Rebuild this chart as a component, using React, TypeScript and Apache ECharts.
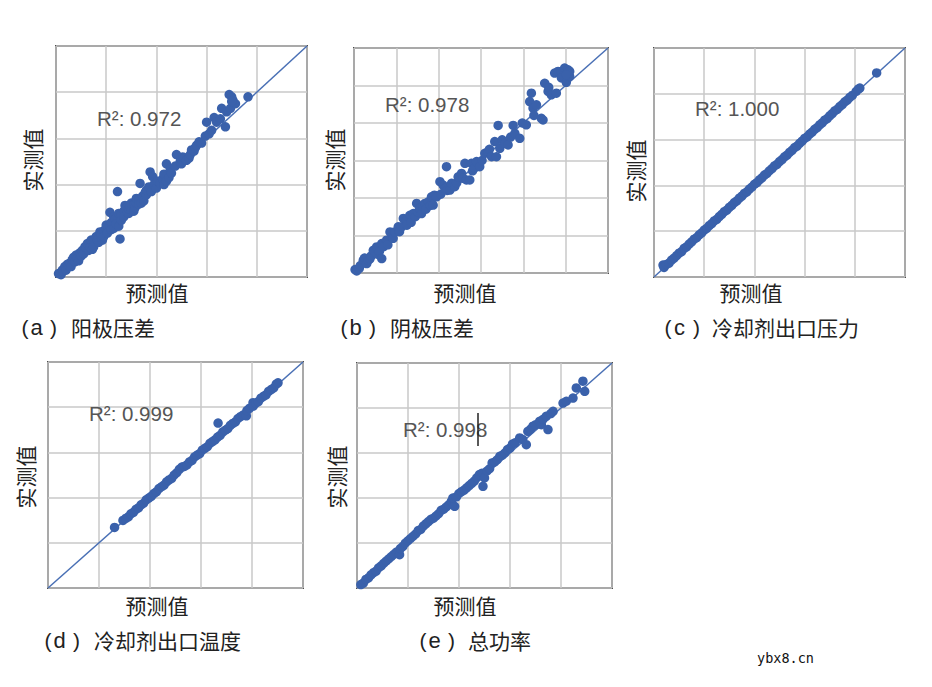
import React, { useEffect, useRef } from "react";
import * as echarts from "echarts";

// ---------- data (arbitrary units) ----------
const panelA: number[][] = [
  [1, 1.5], [2, 1], [2.5, 3], [3, 2.5], [3.5, 4.5], [4, 3], [4.5, 5.5], [5, 5], [5.5, 6], [6, 4.5], [6.5, 7.5], [7, 8.5],
  [7.5, 6.5], [8, 9.5], [8.5, 8], [9, 7], [9.5, 10.5], [10, 9], [10.5, 11.5], [11, 10], [11.5, 13], [12, 12.5], [12.5, 14.5], [13, 11.5],
  [13.5, 13], [14, 16], [14.5, 12], [15, 15.5], [15, 13], [16, 17.5], [16.5, 16], [17, 15], [17.5, 19.5], [18, 18.5], [18.5, 16], [19, 20],
  [19, 17.5], [20, 21], [20, 22.5], [20.5, 19], [21.5, 22], [21.5, 28], [22, 23.5], [22, 20.5], [23, 26], [23, 21], [23.5, 25], [24, 23],
  [24.5, 37], [25.5, 16.5], [25, 22], [25, 27.5], [26, 27], [26, 24.5], [27, 28.5], [27, 26], [27.5, 31], [28, 30], [28.5, 28], [29, 27.5],
  [29, 29.5], [29.5, 30.5], [30, 29], [30, 32], [31, 31.5], [31, 28.5], [31.5, 30], [32, 32], [32, 34], [33, 33.5], [33, 31.5], [33.5, 40.5],
  [34, 32], [34.5, 35], [35, 33], [35.5, 36.5], [36, 35.5], [36, 37.5], [37, 39], [37.5, 45.5], [38, 37], [38.5, 43.5], [39, 40], [40, 38.5],
  [40.5, 41.5], [41.5, 40.5], [42.5, 42.5], [43, 44.5], [43, 40], [44, 49], [44, 41.5], [45, 43], [45.5, 47], [46, 45], [47.5, 48], [48, 53],
  [49.5, 50], [50, 49], [50.5, 52], [51, 51.5], [52, 50.5], [53, 51.5], [53.5, 53], [54, 55], [55, 54.5], [55.5, 56], [56, 57], [57, 58.5],
  [58, 58], [59.5, 61], [60, 67], [61, 62], [62, 63.5], [63, 69], [64, 67], [65.5, 68.5], [66, 73], [67.5, 65], [68, 71.5], [69.5, 73],
  [69, 79], [70, 78], [70.5, 76.5], [71.5, 75], [70, 76], [76.5, 78]
];

const panelB: number[][] = [
  [0.5, 1.8], [1.3, 1.1], [2.5, 2.5], [3, 4], [4.4, 6.8], [5, 8], [6, 5], [6.8, 6.8], [7.5, 7.5], [8, 9], [9.1, 12.1], [10.7, 13.9],
  [11, 10], [12, 11.5], [13.1, 15.7], [13.1, 7.7], [14, 14], [15.4, 17.5], [16, 15], [17, 21.9], [17.8, 19.3], [18.5, 18.5], [19.3, 21.9], [20.9, 24.6],
  [21.5, 22], [22.5, 24.6], [23.3, 29.1], [24.8, 28.2], [25, 25.5], [26.4, 30.8], [27, 27], [28, 31.7], [29, 30], [29.6, 37.1], [30.3, 32.6], [31.1, 34.4],
  [31.9, 31.7], [32.5, 35.5], [33.5, 37.1], [34, 34], [35.1, 38], [36, 36], [36.6, 40.6], [37.4, 36.2], [38, 41.5], [39, 40.6], [40.6, 48.7], [41, 42],
  [42.1, 46.9], [43, 45], [43.7, 56.7], [44, 44], [45.3, 44.2], [46.1, 47.8], [47.6, 46], [48.5, 48], [49.2, 51.3], [50.8, 53.1], [51.5, 50.5], [52.4, 58.5],
  [53.1, 49.6], [54.7, 49.6], [55.5, 58.5], [56, 54.5], [57, 56], [57.9, 59.4], [59.4, 56.7], [60.5, 60], [61.8, 63.8], [63.4, 64.7], [64, 66], [65, 62],
  [66.5, 70.1], [67.3, 62], [68.1, 78.7], [68.9, 66.5], [70, 71], [71.2, 69.2], [72.8, 68.3], [74, 72.5], [75.2, 78.7], [76, 74.5], [78.3, 71.8], [79.5, 80],
  [81.4, 79], [83, 91.4], [83.8, 95.9], [84.6, 87.9], [85, 84], [86.2, 89.7], [88.5, 82.5], [89.3, 81.6], [90.1, 101.2], [91.7, 96.8], [92, 99], [93.2, 95],
  [94.8, 106.6], [95.6, 95.9], [96.4, 107.5], [97.9, 107.5], [98, 104], [99.5, 109.3], [100.3, 101.7], [101.1, 108.4], [101.9, 104.8], [101.9, 107.5], [100.3, 105.7]
];

const panelC: number[][] = [
  [3.6, 5.2], [4, 4.2], [5, 5.5], [6, 6.1], [7, 7.4], [8, 8.2], [9, 9.3], [10, 10.4], [11, 11.1], [12, 12.5],
  [13, 13.2], [14, 14.4], [15, 15.3], [16, 16.5], [17, 17.2], [18, 18.4], [19, 19.3], [20, 20.5], [21, 21.2], [22, 22.4],
  [23, 23.3], [24, 24.5], [25, 25.2], [26, 26.4], [27, 27.3], [28, 28.5], [29, 29.2], [30, 30.4], [31, 31.3], [32, 32.5],
  [33, 33.2], [34, 34.4], [35, 35.3], [36, 36.5], [37, 37.2], [38, 38.4], [39, 39.3], [40, 40.5], [41, 41.2], [42, 42.4],
  [43, 43.3], [44, 44.5], [45, 45.2], [46, 46.4], [47, 47.3], [48, 48.5], [49, 49.2], [50, 50.4], [51, 51.3], [52, 52.5],
  [53, 53.2], [54, 54.4], [55, 55.3], [56, 56.5], [57, 57.2], [58, 58.4], [59, 59.3], [60, 60.5], [61, 61.2], [62, 62.4],
  [63, 63.3], [64, 64.5], [65, 65.2], [66, 66.4], [67, 67.3], [68, 68.5], [69, 69.2], [70, 70.4], [71, 71.3], [72, 72.5],
  [73, 73.2], [74, 74.4], [75, 75.3], [76, 76.5], [77, 77.2], [78, 78.4], [79, 79.3], [80.5, 81], [81.4, 82], [82, 82.5],
  [88.7, 89.1]
];

const panelD: number[][] = [
  [26.1, 26.8], [29.4, 29.9], [30.5, 30.8], [31.5, 31.5], [32.5, 32.8], [33.5, 33.5], [34.5, 34.8], [35.5, 35.5], [36.5, 36.8], [37.5, 37.5],
  [38.5, 39], [39.5, 39.8], [40.5, 40.5], [41.5, 41.8], [42.5, 42.5], [43.5, 44], [44.5, 44.8], [45.5, 45.5], [46.5, 47], [47.5, 47.8],
  [48.5, 48.5], [49.5, 50], [50.5, 51], [51.5, 52.5], [52.5, 53.5], [53.5, 53.8], [54.5, 54.5], [55.5, 55.8], [56.5, 56.5], [57.5, 58],
  [58.5, 58.8], [59.5, 59.5], [60.5, 61], [61.5, 61.8], [62.5, 62.5], [63.5, 64], [64.5, 64.8], [65.5, 65.5], [66.7, 73], [66.5, 66.8],
  [67.5, 67.5], [68.5, 69], [69.5, 69.8], [70.5, 70.5], [71.5, 72], [72.5, 72.8], [73.5, 73.5], [74.5, 75], [75.5, 75.8], [76.5, 76.5],
  [77.8, 76.2], [78, 78.5], [79, 79.5], [80.4, 82], [80.5, 80.5], [81.5, 81.8], [82.5, 82.5], [83.5, 84], [84.5, 84.8], [85.5, 85.5],
  [86.5, 87], [87.5, 87.8], [88.5, 88.5], [89.5, 90.2], [90.2, 90.8]
];

const panelE: number[][] = [
  [1.5, 1.5], [2.5, 2.2], [3.5, 3.8], [4.5, 4.5], [5.5, 5.8], [6.5, 6.8], [7.5, 7.5], [8.5, 9], [9.5, 9.8], [10.5, 11],
  [11.5, 12], [12.5, 13], [13.5, 14], [14.5, 15], [15.5, 16], [16.7, 14.8], [17, 17.5], [18, 18.5], [19, 20], [20, 21],
  [21, 22], [22, 23], [23, 24], [24, 25.5], [25, 26], [26, 27.5], [27, 28.5], [28, 29.5], [29, 30.5], [30, 31],
  [31, 32], [32, 33], [33, 34.5], [34, 35], [35, 36], [36, 37], [37, 38.5], [38.3, 36.3], [37.6, 40], [39, 40.5],
  [40, 42], [41, 42.8], [42, 43.5], [43, 44.5], [44, 45.5], [45, 46.5], [46, 47.5], [47, 49], [48, 50.4], [49, 51],
  [50, 48.9], [49.4, 45.2], [51, 52], [52, 53], [53, 55.6], [54, 56], [55, 57], [56, 58.5], [57, 59], [58, 60],
  [59, 61.5], [60, 62.2], [61, 64], [62, 64.5], [63.8, 66.7], [65, 66], [66.4, 63.7], [67, 69.6], [68, 70.5], [69, 71.9],
  [70, 72.5], [71.6, 74.1], [72.3, 72.6], [73, 75], [74.2, 76.3], [74.9, 70.4], [76, 77.5], [76.9, 78.5], [80.8, 82.2], [82.1, 83],
  [84.7, 84.4], [86, 88.9], [88.6, 91.9], [89.3, 87.4]
];

const panels = [panelA, panelB, panelC, panelD, panelE];
const axisMaxes = [100, 120, 100, 100, 100];
const axisStep = 20;
const r2Labels = ["R²: 0.972", "R²: 0.978", "R²: 1.000", "R²: 0.999", "R²: 0.998"];
const captionLetters = ["a", "b", "c", "d", "e"];
const captionTitles = ["阳极压差", "阴极压差", "冷却剂出口压力", "冷却剂出口温度", "总功率"];
const xAxisTitle = "预测值";
const yAxisTitle = "实测值";
const watermark = "ybx8.cn";

// ---------- layout ----------
const gridBoxes = [
  { left: 56, top: 46, width: 251, height: 231 },
  { left: 354, top: 48, width: 254, height: 225 },
  { left: 654, top: 48, width: 251, height: 229 },
  { left: 48, top: 362, width: 255, height: 226 },
  { left: 357, top: 363, width: 255, height: 225 },
];
const r2Pos = [[97, 118], [385, 104], [695, 108], [89, 413], [403, 429]];
const xTitlePos = [[157, 292], [465, 292], [751, 292], [157, 605], [465, 605]];
const yTitlePos = [[32, 160], [334, 160], [635, 171], [25, 477], [336, 477]];
const capStart = [[22, 327], [341, 327], [665, 327], [45, 640], [420, 640]];
const capTitleX = [71, 390, 712, 94, 468];

const DOT = "#3a61ab";
const LINE = "#4a70b5";
const CJK = '"Noto Sans CJK SC", sans-serif';
const LAT = '"Liberation Sans", Arial, sans-serif';

export default function App() {
  const ref = useRef<HTMLDivElement>(null);
  useEffect(() => {
    if (!ref.current) return;
    const chart = echarts.init(ref.current, null, { renderer: "svg" });

    const grid = gridBoxes.map((g) => ({
      ...g,
      show: true,
      borderColor: "#4d4d4d",
      borderWidth: 2,
      backgroundColor: "#fff",
      containLabel: false,
    }));
    const mkAxis = (i: number) => ({
      type: "value" as const,
      gridIndex: i,
      min: 0,
      max: axisMaxes[i],
      interval: axisStep,
      axisLine: { show: false },
      axisTick: { show: false },
      axisLabel: { show: false },
      splitLine: { show: true, lineStyle: { color: "#c8c8c8", width: 1.5 } },
    });
    const series: any[] = [];
    panels.forEach((pts, i) => {
      series.push({
        type: "line",
        xAxisIndex: i,
        yAxisIndex: i,
        data: [[0, 0], [axisMaxes[i], axisMaxes[i]]],
        symbol: "none",
        lineStyle: { color: LINE, width: 1.5 },
        z: 2,
        silent: true,
        clip: false,
      });
      series.push({
        type: "scatter",
        xAxisIndex: i,
        yAxisIndex: i,
        data: pts,
        symbolSize: 9.5,
        itemStyle: { color: DOT, opacity: 1 },
        z: 3,
        clip: false,
      });
    });

    const graphic: any[] = [];
    r2Labels.forEach((t, i) => {
      graphic.push({
        type: "text", x: r2Pos[i][0], y: r2Pos[i][1], z: 10,
        style: { text: t, font: `20.5px ${LAT}`, fill: "#555", align: "left", verticalAlign: "middle" },
      });
      graphic.push({
        type: "text", x: xTitlePos[i][0], y: xTitlePos[i][1],
        style: { text: xAxisTitle, font: `21px ${CJK}`, fill: "#222", align: "center", verticalAlign: "middle" },
      });
      graphic.push({
        type: "text", x: yTitlePos[i][0], y: yTitlePos[i][1], rotation: Math.PI / 2,
        style: { text: yAxisTitle, font: `21px ${CJK}`, fill: "#222", align: "center", verticalAlign: "middle" },
      });
      const [sx, sy] = capStart[i];
      graphic.push({
        type: "text", x: sx + 3, y: sy,
        style: { text: "(", font: `21px ${LAT}`, fill: "#222", align: "center", verticalAlign: "middle" },
      });
      graphic.push({
        type: "text", x: sx + 14.5, y: sy,
        style: { text: captionLetters[i], font: `22px ${LAT}`, fill: "#222", align: "center", verticalAlign: "middle" },
      });
      graphic.push({
        type: "text", x: sx + 31.5, y: sy,
        style: { text: ")", font: `21px ${LAT}`, fill: "#222", align: "center", verticalAlign: "middle" },
      });
      graphic.push({
        type: "text", x: capTitleX[i], y: sy,
        style: { text: captionTitles[i], font: `21px ${CJK}`, fill: "#222", align: "left", verticalAlign: "middle" },
      });
    });
    // text-cursor mark visible in panel (e)
    graphic.push({
      type: "line", z: 11,
      shape: { x1: 478, y1: 413, x2: 478, y2: 446 },
      style: { stroke: "#222", lineWidth: 1.5 },
    });
    graphic.push({
      type: "text", x: 757, y: 658,
      style: { text: watermark, font: '13.5px "DejaVu Sans Mono", monospace', fill: "#111", align: "left", verticalAlign: "middle" },
    });

    chart.setOption({
      animation: false,
      backgroundColor: "#fff",
      grid,
      xAxis: panels.map((_, i) => mkAxis(i)),
      yAxis: panels.map((_, i) => mkAxis(i)),
      series,
      graphic,
    });
    return () => chart.dispose();
  }, []);
  return (
    <div
      ref={ref}
      style={{ position: "absolute", left: 0, top: 0, width: 932, height: 687, background: "#fff" }}
    />
  );
}
